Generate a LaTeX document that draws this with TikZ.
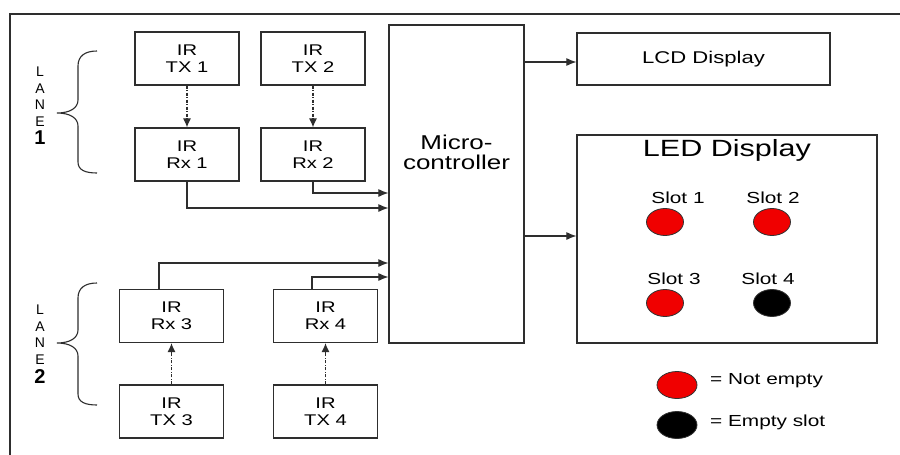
\documentclass[tikz,border=0pt]{standalone}
\usepackage{fontspec}
\setmainfont{Liberation Sans}[FakeStretch=1.3]
\newfontfamily\plainsans{Liberation Sans}
\usetikzlibrary{arrows.meta,shapes.geometric}
\definecolor{ln}{HTML}{2E2E2E}
\definecolor{ledred}{HTML}{F00000}
\begin{document}
\begin{tikzpicture}[x=1pt,y=-1pt,
  box/.style={draw=ln,line width=1.2pt,fill=white,minimum width=104pt,minimum height=53pt,inner sep=0pt,align=center,font=\fontsize{15.5}{17}\selectfont},
  arr/.style={draw=ln,line width=1.1pt,-{Latex[length=10pt,width=8pt]}},
  dotarr/.style={draw=ln,line width=1.1pt,dash pattern=on 3pt off 1.5pt on 1pt off 1.5pt,-{Latex[length=9pt,width=8pt]}},
  led/.style={ellipse,draw=black!80,line width=0.8pt,minimum width=37pt,minimum height=27pt,inner sep=0pt},
  slot/.style={font=\fontsize{16}{18}\selectfont,inner sep=0pt},
  lane/.style={inner sep=0pt,font=\plainsans\fontsize{14}{14}\selectfont},
  lanenum/.style={inner sep=0pt,font=\plainsans\bfseries\fontsize{20}{20}\selectfont},
  bracepath/.style={draw=ln,line width=1.1pt}]
\useasboundingbox[fill=white] (0,0) rectangle (900,455);
% outer frame
\draw[ln,line width=1.2pt] (10,455) -- (10,14) -- (900,14);
% lane 1 boxes
\node[box] (tx1) at (187,58.5) {IR\\TX 1};
\node[box] (tx2) at (313,58.5) {IR\\TX 2};
\node[box] (rx1) at (187,154.5) {IR\\Rx 1};
\node[box] (rx2) at (313,154.5) {IR\\Rx 2};
% lane 2 boxes
\node[box] (rx3) at (171.5,316) {IR\\Rx 3};
\node[box] (rx4) at (325.5,316) {IR\\Rx 4};
\node[box] (tx3) at (171.5,411.5) {IR\\TX 3};
\node[box] (tx4) at (325.5,411.5) {IR\\TX 4};
% microcontroller
\node[draw=ln,line width=1.2pt,minimum width=135pt,minimum height=318pt,inner sep=0pt] (micro) at (456.5,184) {};
\node[align=center,inner sep=0pt,font=\fontsize{20}{20}\selectfont] (microtxt) at (456.5,152) {Micro-\\controller};
% LCD
\node[draw=ln,line width=1.2pt,minimum width=253pt,minimum height=52pt,inner sep=0pt,font=\fontsize{17}{19}\selectfont] (lcd) at (703.5,59) {LCD Display};
% LED
\node[draw=ln,line width=1.2pt,minimum width=300pt,minimum height=208pt,inner sep=0pt] (ledbox) at (727,239) {};
\node[inner sep=0pt,font=\fontsize{23.5}{24}\selectfont] (ledtitle) at (727,150) {LED Display};
\node[slot] (l1) at (678,198) {Slot 1};
\node[slot] (l2) at (773,198) {Slot 2};
\node[slot] (l3) at (674,279) {Slot 3};
\node[slot] (l4) at (768,279) {Slot 4};
\node[led,fill=ledred] (s1) at (665,222) {};
\node[led,fill=ledred] (s2) at (772,222) {};
\node[led,fill=ledred] (s3) at (665,303) {};
\node[led,fill=black] (s4) at (772,303) {};
% legend
\node[led,fill=ledred,minimum width=40pt] (k1) at (677,385) {};
\node[led,fill=black,minimum width=40pt] (k2) at (677,425) {};
\node[slot,anchor=west] (k1t) at (710,381) {= Not empty};
\node[slot,anchor=west] (k2t) at (710,422) {= Empty slot};
% lane labels
\node[lane] (a1) at (40,72) {L};
\node[lane] (a2) at (40,88.5) {A};
\node[lane] (a3) at (40,105) {N};
\node[lane] (a4) at (40,121.5) {E};
\node[lanenum] (a5) at (40,138) {1};
\node[lane] (b1) at (40,310) {L};
\node[lane] (b2) at (40,326.5) {A};
\node[lane] (b3) at (40,343) {N};
\node[lane] (b4) at (40,359.5) {E};
\node[lanenum] (b5) at (40,377) {2};
% braces
\draw[bracepath] (97,51) .. controls (85,51) and (78,56) .. (78,66) -- (78,100) .. controls (78,108) and (70,113) .. (57,113) .. controls (70,113) and (78,118) .. (78,126) -- (78,162) .. controls (78,170) and (85,173) .. (97,173);
\draw[bracepath] (97,283) .. controls (85,283) and (78,288) .. (78,298) -- (78,330) .. controls (78,338) and (70,343) .. (57,343) .. controls (70,343) and (78,348) .. (78,356) -- (78,394) .. controls (78,402) and (85,405) .. (97,405);
% helper coordinates
\coordinate (y62) at (0,62);
\coordinate (y236) at (0,236);
\coordinate (y193) at (0,193);
\coordinate (y208) at (0,208);
\coordinate (y263) at (0,263);
\coordinate (y277) at (0,277);
% IR links
\draw[dotarr] (tx1.south) -- (rx1.north);
\draw[dotarr] (tx2.south) -- (rx2.north);
\draw[dotarr] (tx3.north) -- (rx3.south);
\draw[dotarr] (tx4.north) -- (rx4.south);
% receivers to micro
\draw[arr] (rx1.south) |- (micro.west |- y208);
\draw[arr] (rx2.south) |- (micro.west |- y193);
\draw[arr] ([xshift=-12.5pt]rx3.north) |- (micro.west |- y263);
\draw[arr] ([xshift=-13.5pt]rx4.north) |- (micro.west |- y277);
% micro to displays
\draw[arr] (micro.east |- y62) -- (lcd.west |- y62);
\draw[arr] (micro.east |- y236) -- (ledbox.west |- y236);
\end{tikzpicture}
\end{document}
